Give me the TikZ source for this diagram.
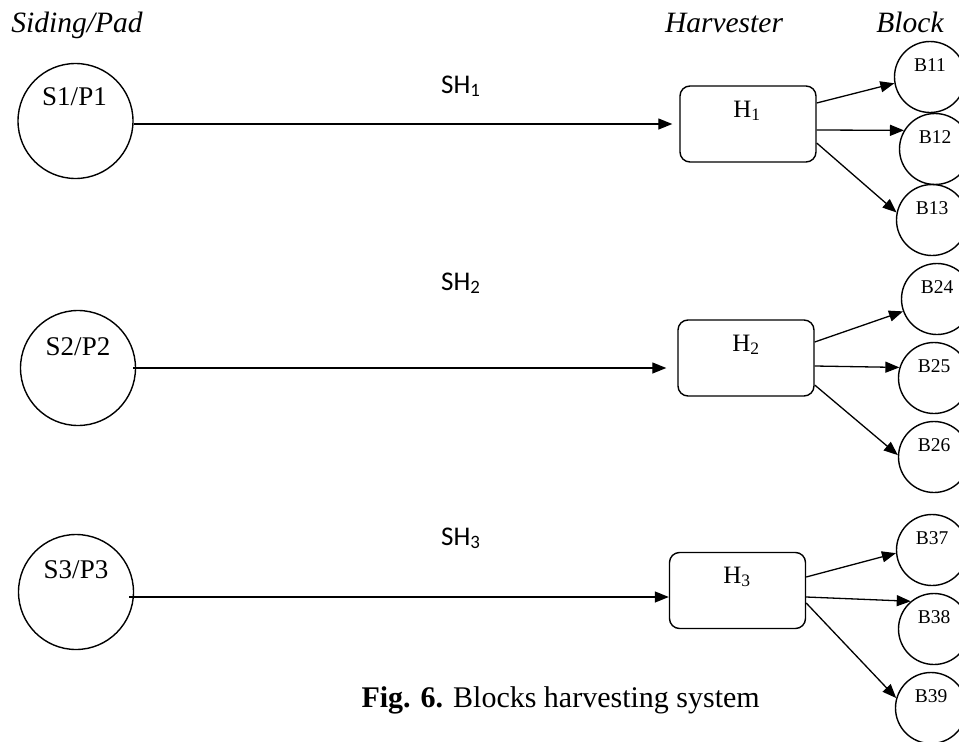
\documentclass[tikz,border=0pt]{standalone}
\usepackage{fontspec}
\setmainfont{Liberation Serif}
\newfontfamily\calibri{Carlito}
\usetikzlibrary{arrows.meta}
\begin{document}
\begin{tikzpicture}[x=1pt,y=-1pt,
  src/.style={circle,draw,line width=1.4pt,minimum size=115pt,inner sep=0pt},
  blk/.style={circle,draw,line width=1.4pt,minimum size=71pt,inner sep=0pt},
  hbox/.style={draw,rounded corners=10pt,line width=1.4pt,minimum width=136pt,minimum height=76pt,inner sep=0pt},
  arr/.style={line width=1.3pt,-{Triangle[length=14pt,width=11pt]}},
  head/.style={font=\fontsize{29.5}{32}\selectfont\itshape,anchor=base,inner sep=0pt},
  stxt/.style={font=\fontsize{27}{30}\selectfont,anchor=base,inner sep=0pt},
  htxt/.style={font=\fontsize{25}{28}\selectfont,anchor=base,inner sep=0pt},
  btxt/.style={font=\fontsize{19.5}{22}\selectfont,anchor=base,inner sep=0pt},
  shtxt/.style={font=\calibri\fontsize{27}{30}\selectfont,anchor=base west,inner sep=0pt},
]
\useasboundingbox (0,0) rectangle (959,742);
\clip (0,0) rectangle (959,742);

% headings
\node[head] (hs) at (77,32) {Siding/Pad};
\node[head] (hh) at (724,32) {Harvester};
\node[head] (hb) at (910,32) {Block};

% sources
\node[src] (S1) at (75.5,121) {};
\node[src] (S2) at (78,368) {};
\node[src] (S3) at (76,592) {};
\node[stxt] (S1t) at (74.5,105) {S1/P1};
\node[stxt] (S2t) at (78,355) {S2/P2};
\node[stxt] (S3t) at (76,578) {S3/P3};

% harvesters
\node[hbox] (H1) at (748,124) {};
\node[hbox] (H2) at (746,358) {};
\node[hbox] (H3) at (737.5,590.5) {};
\node[htxt] (H1t) at (747,117) {H\textsubscript{1}};
\node[htxt] (H2t) at (746,351) {H\textsubscript{2}};
\node[htxt] (H3t) at (737,583) {H\textsubscript{3}};

% SH labels
\node[shtxt] (SH1) at (441,93) {SH\textsubscript{1}};
\node[shtxt] (SH2) at (441,290) {SH\textsubscript{2}};
\node[shtxt] (SH3) at (441,545) {SH\textsubscript{3}};

% blocks
\node[blk] (B11) at (930,77) {};
\node[blk] (B12) at (935,149) {};
\node[blk] (B13) at (932,220) {};
\node[blk] (B24) at (937,299) {};
\node[blk] (B25) at (934,378) {};
\node[blk] (B26) at (934,457) {};
\node[blk] (B37) at (932,550) {};
\node[blk] (B38) at (934,629) {};
\node[blk] (B39) at (931,708) {};
\foreach \b in {11,12,13,24,25,26,37,38,39}{
  \node[btxt] (B\b t) at ([yshift=6pt]B\b.center) {B\b};
}

% source -> harvester
\draw[arr,shorten >=7pt] (S1.east |- H1.west) -- (H1.west);
\draw[arr,shorten >=11pt] ([xshift=-3pt]S2.east) -- (S2.east -| H2.west);
\draw[arr] ([xshift=-5pt,yshift=-5pt]S3.east) -- ([yshift=-5pt]S3.east -| H3.west);

% harvester -> blocks
\draw[arr] ([yshift=21pt]H1.east) -- (B11.190);
\draw[arr] ([yshift=-6pt]H1.east) -- (B12.149);
\draw[arr] ([yshift=-19pt]H1.east) -- (B13.168);

\draw[arr] ([yshift=16pt]H2.east) -- (B24.200);
\draw[arr] ([yshift=-8pt]H2.east) -- (B25.163);
\draw[arr] ([yshift=-27pt]H2.east) -- (B26.177);

\draw[arr] ([yshift=13.5pt]H3.east) -- (B37.185);
\draw[arr] ([yshift=-6.5pt]H3.east) -- (B38.130);
\draw[arr] ([yshift=-12.5pt]H3.east) -- (B39.164);

% caption
\node[anchor=base east,font=\fontsize{30}{33}\selectfont,inner sep=0pt] (cap) at (760,707) {\textbf{Fig. 6.} Blocks harvesting system};
\end{tikzpicture}
\end{document}
